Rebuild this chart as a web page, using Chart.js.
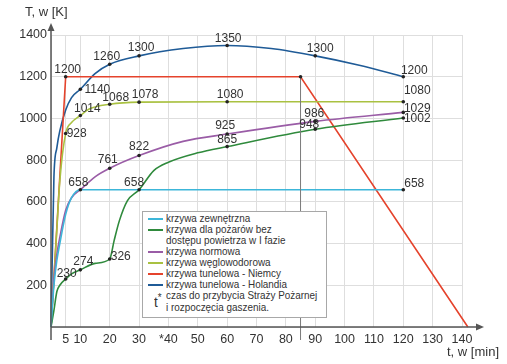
<!DOCTYPE html>
<html>
<head>
<meta charset="utf-8">
<script src="https://cdn.jsdelivr.net/npm/chart.js@4/dist/chart.umd.min.js"></script>
<style>
  body { margin: 0; background: #fff; }
  #wrap { position: relative; width: 507px; height: 364px; font-family: "Liberation Sans", Arial, sans-serif; color: #333; }
  #wrap canvas { position: absolute; left: 0; top: 0; }
  .txt { position: absolute; white-space: nowrap; line-height: 1; }
  #legend { position: absolute; left: 142px; top: 211px; width: 183px; height: 105px; border: 1px solid #a8a8a8; background: #fff; }
  #legend .sw { position: absolute; left: 5px; width: 15px; height: 2px; }
  #legend .lt { position: absolute; left: 23px; font-size: 11px; white-space: nowrap; line-height: 1; color: #333; transform: scaleX(0.9); transform-origin: left top; }
</style>
</head>
<body>
<div id="wrap">
  <canvas id="chart" width="507" height="364"></canvas>
  <div class="txt" style="left:25px; top:5px; font-size:13px;">T, w [K]</div>
  <div class="txt" style="left:447px; top:345px; font-size:13px;">t, w [min]</div>
  <div id="legend"></div>
</div>
<script>
// Tick labels of the time axis
const timeTicks = [0, 5, 10, 20, 30, 40, 50, 60, 70, 80, 90, 100, 110, 120, 130, 140];
const timeTickLabels = ["", "5", "10", "20", "30", "*40", "50", "60", "70", "80", "90", "100", "110", "120", "130", "140"];

// krzywa zewnętrzna
const extT = [0, 1, 2, 3, 5, 7, 10, 120];
const extV = [0, 200, 320, 400, 540, 620, 658, 658];
const extMarks = [120];

// krzywa dla pożarów bez dostępu powietrza w I fazie
const smoT = [0, 1, 2, 3, 5, 7, 10, 15, 20, 21.5, 23.3, 26, 30, 35, 40, 50, 60, 90, 120];
const smoV = [0, 80, 170, 200, 230, 255, 274, 305, 326, 414, 510, 605, 658, 750, 790, 835, 865, 948, 1002];
const smoMarks = [5, 10, 20, 30, 60, 90, 120];

// krzywa normowa
const isoT = [0, 1, 2, 3, 5, 7, 10, 15, 20, 30, 45, 60, 90, 120];
const isoV = [0, 230, 350, 430, 560, 620, 658, 720, 761, 822, 890, 925, 986, 1029];
const isoMarks = [10, 20, 30, 60, 90, 120];

// krzywa węglowodorowa
const hcT = [0, 1, 2, 3, 5, 7, 10, 13, 20, 30, 60, 120];
const hcV = [0, 230, 470, 700, 928, 980, 1014, 1045, 1068, 1078, 1080, 1080];
const hcMarks = [5, 10, 20, 30, 60, 120];

// krzywa tunelowa - Niemcy
const deT = [0, 5, 85, 142];
const deV = [0, 1200, 1200, 0];
const deMarks = [5, 85];

// krzywa tunelowa - Holandia
const nlT = [0, 1, 2, 3, 5, 7, 10, 15, 20, 30, 45, 60, 75, 90, 105, 120];
const nlV = [0, 720, 860, 940, 1040, 1100, 1140, 1215, 1260, 1300, 1335, 1350, 1335, 1300, 1255, 1200];
const nlMarks = [10, 20, 30, 60, 90, 120];

// moment przybycia straży (t*)
const tStar = 85;

// value label offsets (px) for each mark, null = dot only
const extOffsets = [[11, -6]];
const smoOffsets = [[1, -5], [3, -8], [11, -2], [-5, -7], [0, -7], [-6, -5], [14, 1]];
const isoOffsets = [[-2, -7], [-2, -9], [0, -9], [-2, -8], [-1, -8], [14, -4]];
const hcOffsets = [[11, 0], [7, -7], [6, -7], [6, -7], [3, -7], [14, -11]];
const deOffsets = [[2, -7], null];
const nlOffsets = [[17, 0], [-3, -8], [2, -8], [1, -7], [5, -7], [11, -6]];

const series = [
  { label: "krzywa zewnętrzna", t: extT, v: extV, marks: extMarks, offs: extOffsets, color: "#3cb6d9", smooth: true },
  { label: "krzywa dla pożarów bez|dostępu powietrza w I fazie", t: smoT, v: smoV, marks: smoMarks, offs: smoOffsets, color: "#2f8a3c", smooth: true },
  { label: "krzywa normowa", t: isoT, v: isoV, marks: isoMarks, offs: isoOffsets, color: "#9a5ca6", smooth: true },
  { label: "krzywa węglowodorowa", t: hcT, v: hcV, marks: hcMarks, offs: hcOffsets, color: "#a9c141", smooth: true },
  { label: "krzywa tunelowa - Niemcy", t: deT, v: deV, marks: deMarks, offs: deOffsets, color: "#e5432c", smooth: false },
  { label: "krzywa tunelowa - Holandia", t: nlT, v: nlV, marks: nlMarks, offs: nlOffsets, color: "#1f5b97", smooth: true }
];

// Legend (HTML)
const legend = document.getElementById("legend");
let ly = 1;
series.forEach(s => {
  const lines = s.label.split("|");
  const sw = document.createElement("div");
  sw.className = "sw";
  sw.style.top = (ly + 5) + "px";
  sw.style.background = s.color;
  legend.appendChild(sw);
  lines.forEach(line => {
    const d = document.createElement("div");
    d.className = "lt";
    d.style.top = ly + "px";
    d.textContent = line;
    legend.appendChild(d);
    ly += 11;
  });
});
const ts = document.createElement("div");
ts.className = "lt";
ts.style.left = "11px";
ts.style.top = (ly + 2) + "px";
ts.style.fontSize = "15px";
ts.innerHTML = "t<span style='font-size:11px; vertical-align:6px'>*</span>";
legend.appendChild(ts);
["czas do przybycia Straży Pożarnej", "i rozpoczęcia gaszenia."].forEach(line => {
  const d = document.createElement("div");
  d.className = "lt";
  d.style.top = ly + "px";
  d.textContent = line;
  legend.appendChild(d);
  ly += 12;
});

// Axes arrows, t* line, value labels
const decorPlugin = {
  id: "decor",
  afterDatasetsDraw(chart) {
    const ctx = chart.ctx;
    const xs = chart.scales.x, ys = chart.scales.y;
    const x0 = xs.getPixelForValue(0), y0 = ys.getPixelForValue(0);
    ctx.save();

    // t* line
    ctx.strokeStyle = "#7a7a7a";
    ctx.lineWidth = 1;
    ctx.beginPath();
    ctx.moveTo(xs.getPixelForValue(tStar), ys.getPixelForValue(1200));
    ctx.lineTo(xs.getPixelForValue(tStar), y0 + 13);
    ctx.stroke();

    // axes
    ctx.strokeStyle = "#555";
    ctx.fillStyle = "#555";
    ctx.lineWidth = 1.5;
    ctx.beginPath();
    ctx.moveTo(x0, y0 + 13);
    ctx.lineTo(x0, 28);
    ctx.moveTo(x0, y0);
    ctx.lineTo(478, y0);
    ctx.stroke();
    ctx.beginPath();
    ctx.moveTo(x0, 23); ctx.lineTo(x0 - 3.5, 31); ctx.lineTo(x0 + 3.5, 31); ctx.closePath();
    ctx.fill();
    ctx.beginPath();
    ctx.moveTo(484, y0); ctx.lineTo(476, y0 - 3.5); ctx.lineTo(476, y0 + 3.5); ctx.closePath();
    ctx.fill();

    // dots + value labels
    ctx.font = "12px 'Liberation Sans', Arial, sans-serif";
    ctx.textAlign = "center";
    ctx.textBaseline = "middle";
    series.forEach(s => {
      s.marks.forEach((m, i) => {
        const k = s.t.indexOf(m);
        const px = xs.getPixelForValue(s.t[k]);
        const py = ys.getPixelForValue(s.v[k]);
        ctx.fillStyle = "#222";
        ctx.beginPath();
        ctx.arc(px, py, 1.8, 0, Math.PI * 2);
        ctx.fill();
        const o = s.offs[i];
        if (o) {
          ctx.fillStyle = "#333";
          ctx.fillText(String(s.v[k]), px + o[0], py + o[1]);
        }
      });
    });
    ctx.restore();
  }
};

new Chart(document.getElementById("chart"), {
  type: "line",
  data: {
    datasets: series.map(s => ({
      label: s.label,
      data: s.t.map((t, i) => ({ x: t, y: s.v[i] })),
      borderColor: s.color,
      backgroundColor: s.color,
      borderWidth: 1.6,
      pointRadius: 0,
      fill: false,
      clip: false,
      cubicInterpolationMode: s.smooth ? "monotone" : "default",
      tension: 0
    }))
  },
  options: {
    responsive: false,
    animation: false,
    events: [],
    layout: { padding: { top: 35, right: 45, left: 0, bottom: 0 } },
    plugins: { legend: { display: false }, tooltip: { enabled: false } },
    scales: {
      x: {
        type: "linear",
        min: 0,
        max: 140,
        afterBuildTicks: axis => { axis.ticks = timeTicks.map(v => ({ value: v })); },
        afterFit: scale => { scale.height = 37; },
        grid: { color: "#dedede", drawTicks: false },
        border: { display: false },
        ticks: {
          autoSkip: false,
          maxRotation: 0,
          padding: 5,
          color: "#333",
          font: { family: "'Liberation Sans', Arial, sans-serif", size: 12.5 },
          callback: (v) => timeTickLabels[timeTicks.indexOf(v)]
        }
      },
      y: {
        min: 0,
        max: 1400,
        afterFit: scale => { scale.width = 51; },
        grid: { color: "#dedede", drawTicks: false },
        border: { display: false },
        ticks: {
          stepSize: 200,
          padding: 4,
          color: "#333",
          font: { family: "'Liberation Sans', Arial, sans-serif", size: 12.5 },
          callback: v => v === 0 ? "" : v
        }
      }
    }
  },
  plugins: [decorPlugin]
});
</script>
</body>
</html>
